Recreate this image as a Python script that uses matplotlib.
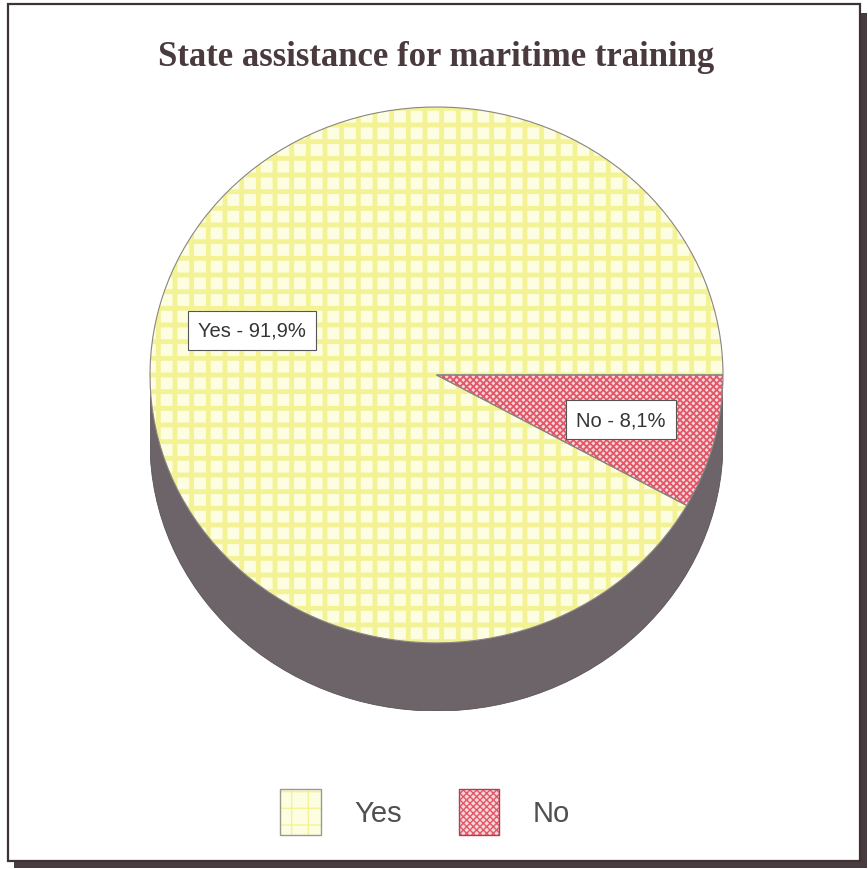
import matplotlib
matplotlib.use("Agg")
import matplotlib.pyplot as plt
import matplotlib.patches as mpatches
from matplotlib.legend_handler import HandlerTuple

# ---- data ----
categories = ["Yes", "No"]
values = [91.9, 8.1]
title = "State assistance for maritime training"

face_colors = ["#fdfde2", "#f9d6d9"]
hatch_colors = ["#f3f396", "#e05868"]
hatches = ["+", "xxxxx"]
outline_colors = ["#9a9a8c", "#b04050"]

W, H = 868, 870
fig = plt.figure(figsize=(W / 100, H / 100), dpi=100)
fig.patch.set_facecolor("white")

# ---- background axes for the outer frame ----
bg = fig.add_axes([0, 0, 1, 1])
bg.set_xlim(0, W)
bg.set_ylim(H, 0)
bg.axis("off")
frame_col = "#3e3234"
bg.add_patch(mpatches.Rectangle((14, 862), 853, 7, fc="#4a3c3e", ec="none"))
bg.add_patch(mpatches.Rectangle((860, 14), 7, 855, fc="#4a3c3e", ec="none"))
bg.add_patch(mpatches.Rectangle((8, 5), 852, 857, fc="white", ec=frame_col, lw=1.6))

# ---- pie axes ----
left, right, top, bottom = 150, 723, 108, 712
depth = 68 / 267.5
ax = fig.add_axes([left / W, (H - bottom) / H, (right - left) / W, (bottom - top) / H])

# 3-D side (shadow)
side_col = "#6c6469"
ax.add_patch(mpatches.Ellipse((0, -depth), 2, 2, fc=side_col, ec="#5a5256", lw=0.6))
ax.add_patch(mpatches.Rectangle((-1, -depth), 2, depth, fc=side_col, ec="none"))

labels = [f"{c} - {v:.1f}%".replace(".", ",") for c, v in zip(categories, values)]
wedges, texts = ax.pie(
    values, startangle=0, counterclock=True, radius=1, center=(0, 0),
    labels=labels, labeldistance=0.665,
    textprops=dict(ha="center", va="center", fontsize=14.5, color="#353535",
                   family="Liberation Sans",
                   bbox=dict(boxstyle="square,pad=0.5", fc="white", ec="#555555", lw=0.8)),
)
for w, fc, hc, h in zip(wedges, face_colors, hatch_colors, hatches):
    w.set_facecolor(fc)
    w.set_edgecolor(hc)
    w.set_hatch(h)
    w.set_linewidth(0)
    if hasattr(w, "set_hatch_linewidth"):
        w.set_hatch_linewidth(3.5 if h == "+" else 1.3)
    w.set_zorder(2)
for t in texts:
    t.set_zorder(5)

# outline
ow, _ = ax.pie(values, startangle=0, counterclock=True, radius=1, center=(0, 0),
               wedgeprops=dict(fc="none", ec="#8a8484", lw=0.8))
for w in ow:
    w.set_zorder(3)

ax.set_aspect("auto")
ax.set_xlim(-1, 1)
ax.set_ylim(-1 - depth, 1)
ax.axis("off")

# ---- title ----
fig.text(436 / W, 1 - 57 / H, title, ha="center", va="center",
         family="Liberation Serif", fontweight="bold", fontsize=25, color="#4a3a3e")

# ---- legend ----
handles = []
for fc, hc, h, oc in zip(face_colors, hatch_colors, hatches, outline_colors):
    p = mpatches.Patch(facecolor=fc, edgecolor=hc, hatch=h, lw=0)
    if hasattr(p, "set_hatch_linewidth"):
        p.set_hatch_linewidth(3.0 if h == "+" else 1.3)
    o = mpatches.Patch(facecolor="none", edgecolor=oc, lw=1.0)
    handles.append((p, o))
leg = fig.legend(handles, categories, loc="center", bbox_to_anchor=(425 / W, 1 - 813 / H),
                 ncol=2, frameon=False, prop=dict(family="Liberation Sans", size=21),
                 handler_map={tuple: HandlerTuple(ndivide=1, pad=0)},
                 handlelength=1.4, handleheight=2.0, handletextpad=1.15, columnspacing=1.95)
for t in leg.get_texts():
    t.set_color("#505050")

fig.savefig("out.png", dpi=100)
